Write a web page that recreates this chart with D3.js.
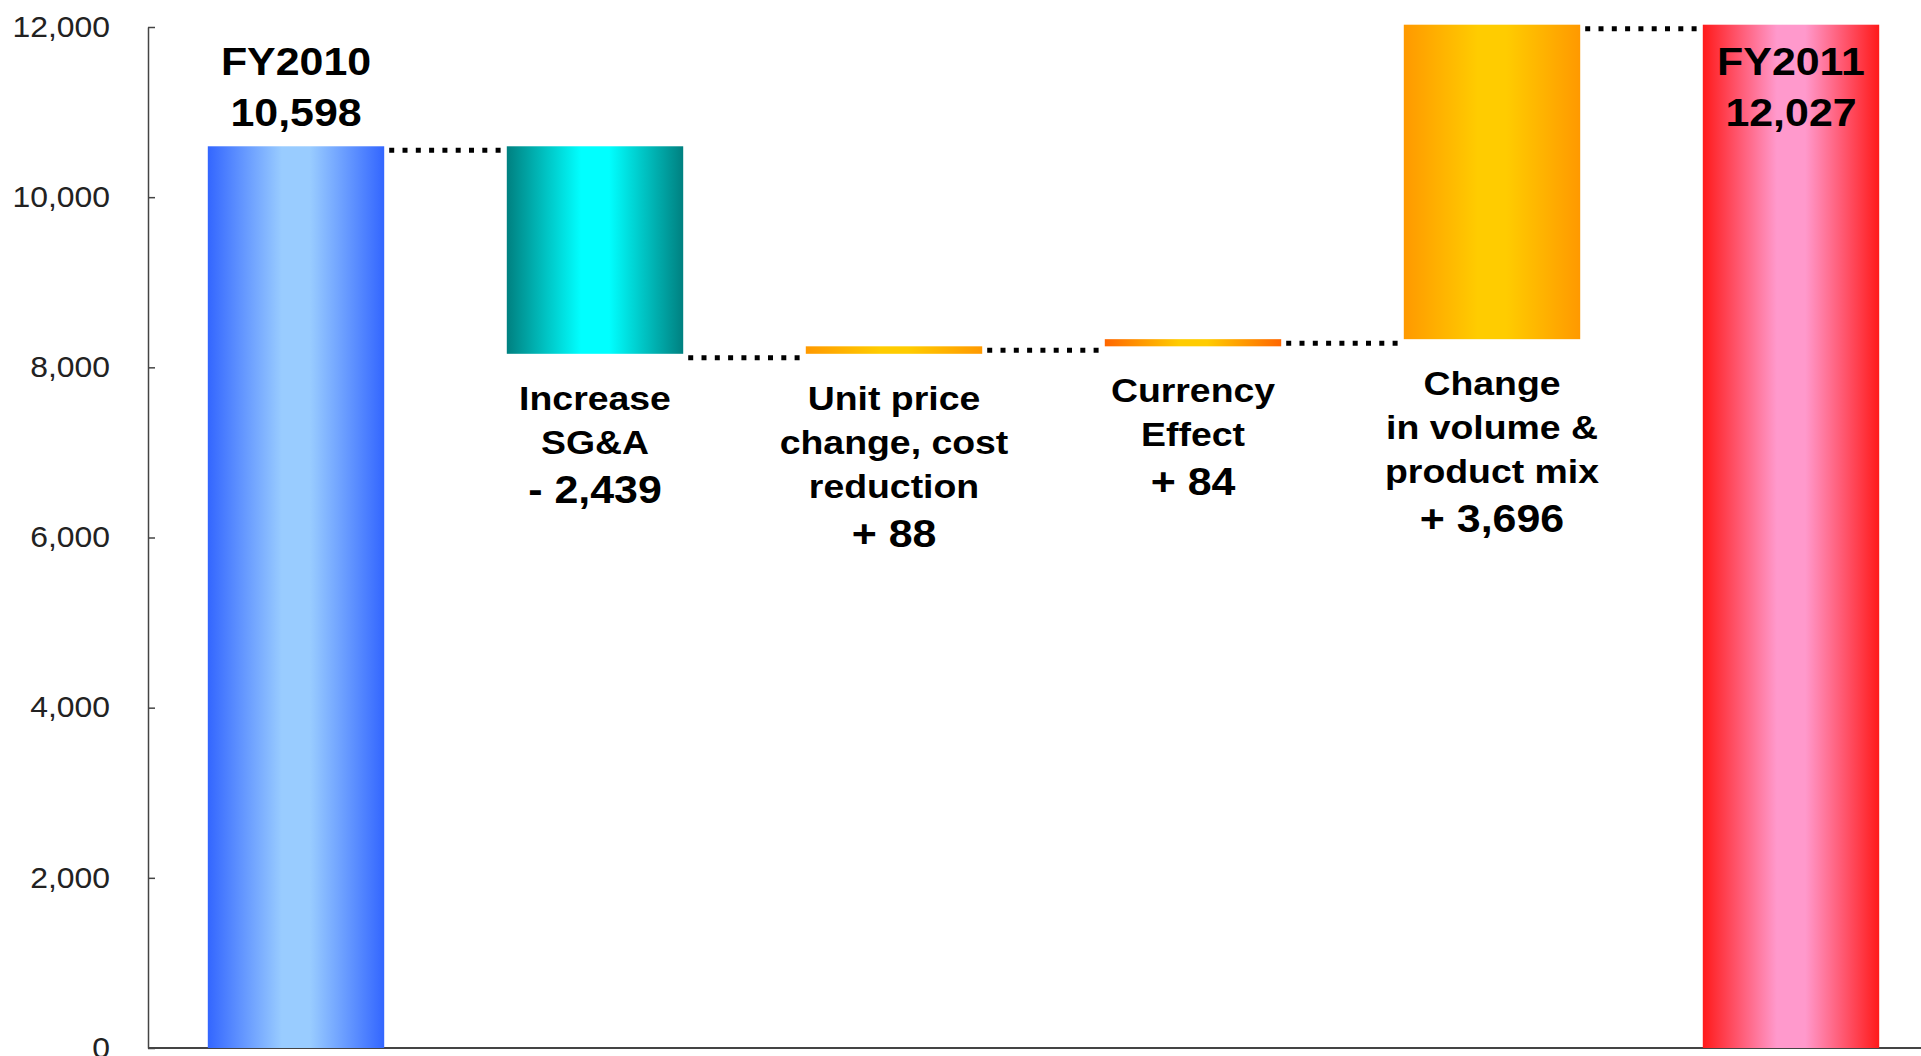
<!DOCTYPE html>
<html>
<head>
<meta charset="utf-8">
<script src="https://cdn.jsdelivr.net/npm/d3@7"></script>
<style>
  body { margin: 0; background: #fff; }
  svg { display: block; }
</style>
</head>
<body>
<div id="chart"></div>
<script>
// data
const categories = ["FY2010", "Increase SG&A", "Unit price change, cost reduction", "Currency Effect", "Change in volume & product mix", "FY2011"];
const labelLines = [
  ["FY2010"],
  ["Increase", "SG&A"],
  ["Unit price", "change, cost", "reduction"],
  ["Currency", "Effect"],
  ["Change", "in volume &", "product mix"],
  ["FY2011"]
];
const values = [10598, -2439, 88, 84, 3696, 12027];
const kinds = ["total", "delta", "delta", "delta", "delta", "total"];
const valueLabels = ["10,598", "- 2,439", "+ 88", "+ 84", "+ 3,696", "12,027"];
const yTicks = [0, 2000, 4000, 6000, 8000, 10000, 12000];

// gradient colours, edge and centre
const edgeColors = ["#3366ff", "#008080", "#ff9900", "#ff6600", "#ff9900", "#ff1a1a"];
const centerColors = ["#99ccff", "#00ffff", "#ffcc00", "#ffcc00", "#ffcc00", "#ff99cc"];

const W = 1921, H = 1056;
const sx = 1.1; // slide text looks a bit stretched horizontally
const font = "Liberation Sans, Arial, sans-serif";

const svg = d3.select("#chart").append("svg")
  .attr("width", W).attr("height", H);

const x = d3.scaleBand()
  .domain(categories)
  .range([148, 1939])
  .paddingInner(0.41)
  .paddingOuter(0.2);

const y = d3.scaleLinear().domain([0, 12000]).range([1048, 27]);

// running totals
let run = 0;
const bars = categories.map((c, i) => {
  let y0, y1;
  if (kinds[i] == "total") { y0 = 0; y1 = values[i]; run = values[i]; }
  else { y0 = run; y1 = run + values[i]; run = y1; }
  return { c: c, i: i, lo: Math.min(y0, y1), hi: Math.max(y0, y1), end: y1 };
});

// gradients
const defs = svg.append("defs");
bars.forEach(b => {
  const g = defs.append("linearGradient")
    .attr("id", "grad" + b.i)
    .attr("x1", 0).attr("x2", 1).attr("y1", 0).attr("y2", 0);
  g.append("stop").attr("offset", "0%").attr("stop-color", edgeColors[b.i]);
  g.append("stop").attr("offset", "42%").attr("stop-color", centerColors[b.i]);
  g.append("stop").attr("offset", "58%").attr("stop-color", centerColors[b.i]);
  g.append("stop").attr("offset", "100%").attr("stop-color", edgeColors[b.i]);
});

// axes
const yAxis = svg.append("g")
  .attr("transform", "translate(148,0)")
  .call(d3.axisLeft(y).tickValues(yTicks).tickFormat(d3.format(","))
    .tickSizeInner(-7).tickSizeOuter(0).tickPadding(38));
yAxis.select(".domain").attr("stroke", "#444").attr("stroke-width", 1.5);
yAxis.selectAll(".tick line").attr("stroke", "#444").attr("stroke-width", 1.5);
yAxis.selectAll(".tick text")
  .attr("font-family", font)
  .attr("font-size", 29)
  .attr("fill", "#222")
  .attr("transform", "scale(" + sx + ",1)")
  .attr("x", -38 / sx);

svg.append("line")
  .attr("x1", 148).attr("x2", W)
  .attr("y1", y(0)).attr("y2", y(0))
  .attr("stroke", "#444").attr("stroke-width", 2);

// bars
svg.selectAll(".bar").data(bars).join("rect")
  .attr("class", "bar")
  .attr("x", d => x(d.c))
  .attr("width", x.bandwidth())
  .attr("y", d => y(d.hi))
  .attr("height", d => Math.max(1, y(d.lo) - y(d.hi)))
  .attr("fill", d => "url(#grad" + d.i + ")");

// dotted connectors
const links = bars.slice(0, -1).map((b, i) => ({ from: b, to: bars[i + 1] }));
svg.selectAll(".link").data(links).join("line")
  .attr("class", "link")
  .attr("x1", d => x(d.from.c) + x.bandwidth() + 5)
  .attr("x2", d => x(d.to.c) - 1)
  .attr("y1", d => y(d.from.end) + 4)
  .attr("y2", d => y(d.from.end) + 4)
  .attr("stroke", "#000")
  .attr("stroke-width", 5)
  .attr("stroke-dasharray", "5 8.3");

// labels
function addText(g, t, cx, by, size) {
  g.append("text")
    .attr("transform", "translate(" + cx + "," + by + ") scale(" + sx + ",1)")
    .attr("text-anchor", "middle")
    .attr("font-family", font)
    .attr("font-weight", "bold")
    .attr("font-size", size)
    .attr("fill", "#000")
    .text(t);
}

bars.forEach(b => {
  const cx = x(b.c) + x.bandwidth() / 2;
  const g = svg.append("g");
  if (kinds[b.i] == "total") {
    addText(g, labelLines[b.i][0], cx, 75, 39);
    addText(g, valueLabels[b.i], cx, 126, 39);
  } else {
    const top = y(b.lo) + 56;
    const ls = labelLines[b.i];
    ls.forEach((t, k) => addText(g, t, cx, top + k * 44, 34));
    addText(g, valueLabels[b.i], cx, top + (ls.length - 1) * 44 + 49, 39);
  }
});
</script>
</body>
</html>
